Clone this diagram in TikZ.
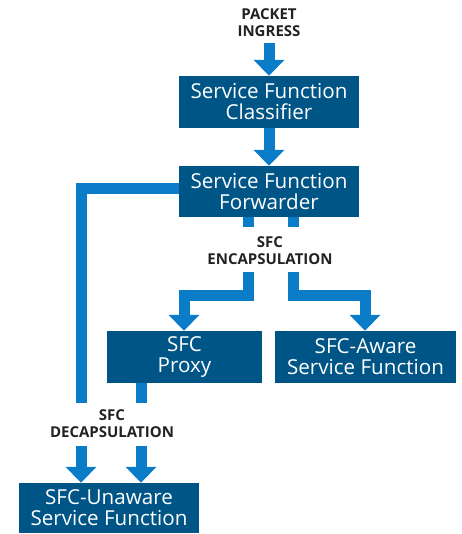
\documentclass[tikz,border=0pt]{standalone}
\usepackage{fontspec}
\setmainfont{Open Sans}
\usetikzlibrary{arrows.meta,calc}
\definecolor{boxblue}{HTML}{005587}
\definecolor{arrblue}{HTML}{0A7CC8}
\definecolor{labgray}{HTML}{222222}
\tikzset{
  box/.style={fill=boxblue,text=white,inner sep=0pt,align=center,
    font=\fontsize{20.6}{21}\selectfont},
  lab/.style={text=labgray,align=center,inner sep=0pt,
    font=\bfseries\fontsize{15}{17}\selectfont},
  shaft/.style={draw=arrblue,line width=11pt,line join=miter,line cap=butt},
  arr/.style={shaft,-{Triangle[width=30pt,length=16pt]}},
}
\begin{document}
\begin{tikzpicture}[x=1pt,y=-1pt]
\useasboundingbox (0,0) rectangle (461,534);
% boxes
\node[box,minimum width=180pt,minimum height=52pt] (classifier) at (269,102) {Service Function\\Classifier};
\node[box,minimum width=180pt,minimum height=51pt] (forwarder) at (269,191.5) {Service Function\\Forwarder};
\node[box,minimum width=155pt,minimum height=52pt] (proxy) at (184.5,357) {SFC\\Proxy};
\node[box,minimum width=181pt,minimum height=52pt] (aware) at (365.5,357) {SFC-Aware\\Service Function};
\node[box,minimum width=180pt,minimum height=50pt] (unaware) at (109,508) {SFC-Unaware\\Service Function};
% labels
\node[lab] (ingress) at (269,23) {PACKET\\INGRESS};
\node[lab] (encap) at (270,251) {SFC\\ENCAPSULATION};
\node[lab] (decap) at (112,424) {SFC\\DECAPSULATION};
% coordinates
\coordinate (in0) at (269,43);
\coordinate (e1) at (248,227);
\coordinate (e2) at (293,227);
\coordinate (e1b) at (248,272);
\coordinate (e2b) at (293,272);
\coordinate (pl) at (184,295);
\coordinate (pr) at (365,295);
\coordinate (dl) at (81,403);
\coordinate (dr) at (141,403);
\coordinate (dl2) at (81,446);
\coordinate (dr2) at (141,446);
% connectors
\draw[arr] (in0) -- (classifier.north);
\draw[arr] (classifier.south) -- (forwarder.north);
\draw[shaft] (forwarder.south -| e1) -- (e1);
\draw[shaft] (forwarder.south -| e2) -- (e2);
\draw[arr] (e1b) |- (pl) -- (proxy.north -| pl);
\draw[arr] (e2b) |- (pr) -- (aware.north -| pr);
\draw[shaft] ([yshift=2.5pt]forwarder.west) -| (dl);
\draw[shaft] (proxy.south -| dr) -- (dr);
\draw[arr] (dl2) -- (unaware.north -| dl2);
\draw[arr] (dr2) -- (unaware.north -| dr2);
\end{tikzpicture}
\end{document}
